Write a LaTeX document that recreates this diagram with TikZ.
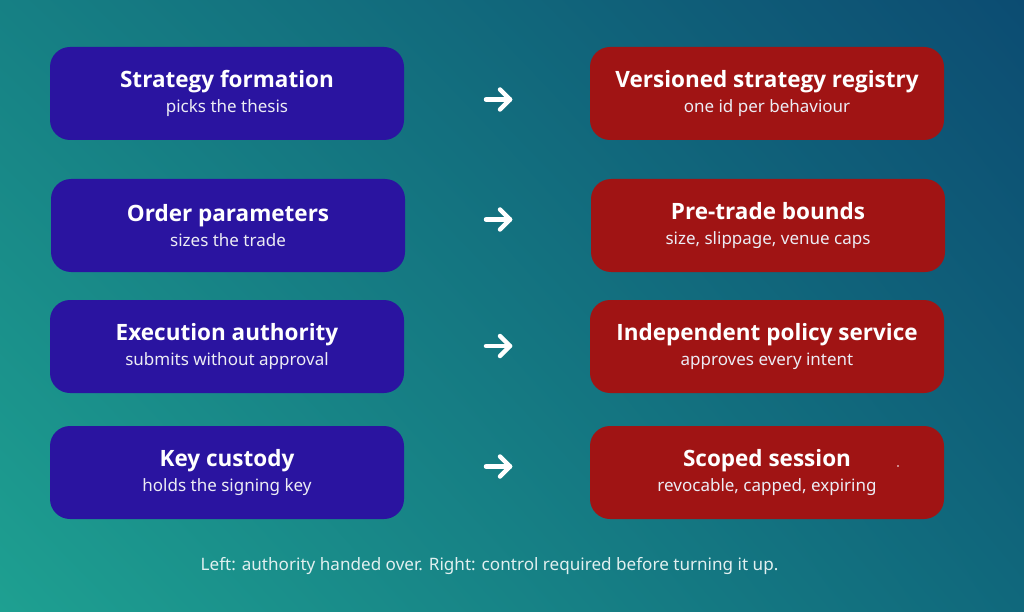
\documentclass[tikz,border=0pt]{standalone}
\usepackage{fontspec}
\setmainfont{Noto Sans}
\newfontfamily\titlefont{Open Sans}
\usetikzlibrary{arrows.meta,shadings}
\definecolor{bgLL}{RGB}{30,160,145}
\definecolor{bgUL}{RGB}{22,128,132}
\definecolor{bgUR}{RGB}{12,76,114}
\definecolor{bgLR}{RGB}{16,104,124}
\definecolor{boxblue}{RGB}{42,20,160}
\definecolor{boxred}{RGB}{160,20,20}
\definecolor{subtxt}{RGB}{236,236,244}
\definecolor{captxt}{RGB}{225,240,240}
\tikzset{
  card/.style={rounded corners=20pt, minimum width=354pt, minimum height=93pt,
    inner sep=0pt, align=center, text=white, font=\fontsize{17}{25}\selectfont},
  leftcard/.style={card, fill=boxblue},
  rightcard/.style={card, fill=boxred},
  flowarrow/.style={white, line width=4.5pt, line cap=round, line join=round},
}
\newcommand{\cardtext}[2]{{\titlefont\fontsize{22.5}{25}\selectfont\bfseries #1}\\{\color{subtxt}#2}}
\begin{document}
\begin{tikzpicture}[x=1pt,y=-1pt]
\useasboundingbox (0,0) rectangle (1024,612);
\shade[lower left=bgLL, upper left=bgUL, upper right=bgUR, lower right=bgLR] (0,0) rectangle (1024,612);

\node[leftcard] (l1) at (227,93.5) {\cardtext{Strategy formation}{picks the thesis}};
\node[leftcard] (l2) at (228,225.5) {\cardtext{Order parameters}{sizes the trade}};
\node[leftcard] (l3) at (227,346.5) {\cardtext{Execution authority}{submits without approval}};
\node[leftcard] (l4) at (227,472.5) {\cardtext{Key custody}{holds the signing key}};

\node[rightcard] (r1) at (767,93.5) {\cardtext{Versioned strategy registry}{one id per behaviour}};
\node[rightcard] (r2) at (768,225.5) {\cardtext{Pre-trade bounds}{size, slippage, venue caps}};
\node[rightcard] (r3) at (767,346.5) {\cardtext{Independent policy service}{approves every intent}};
\node[rightcard] (r4) at (767,472.5) {\cardtext{Scoped session}{revocable, capped, expiring}};

\foreach \i/\y in {1/99.5, 2/219.5, 3/346, 4/466.5} {
  \coordinate (a\i s) at (486,\y);
  \coordinate (a\i e) at (510,\y);
  \draw[flowarrow] (a\i s) -- (a\i e);
  \draw[flowarrow] ([shift={(-10,-10)}]a\i e) -- (a\i e) -- ([shift={(-10,10)}]a\i e);
}

\fill[white] (898,466) circle (0.8);

\node[text=captxt, font=\fontsize{17.1}{20}\selectfont] (cap) at (489.5,566)
  {Left: authority handed over. Right: control required before turning it up.};
\end{tikzpicture}
\end{document}
